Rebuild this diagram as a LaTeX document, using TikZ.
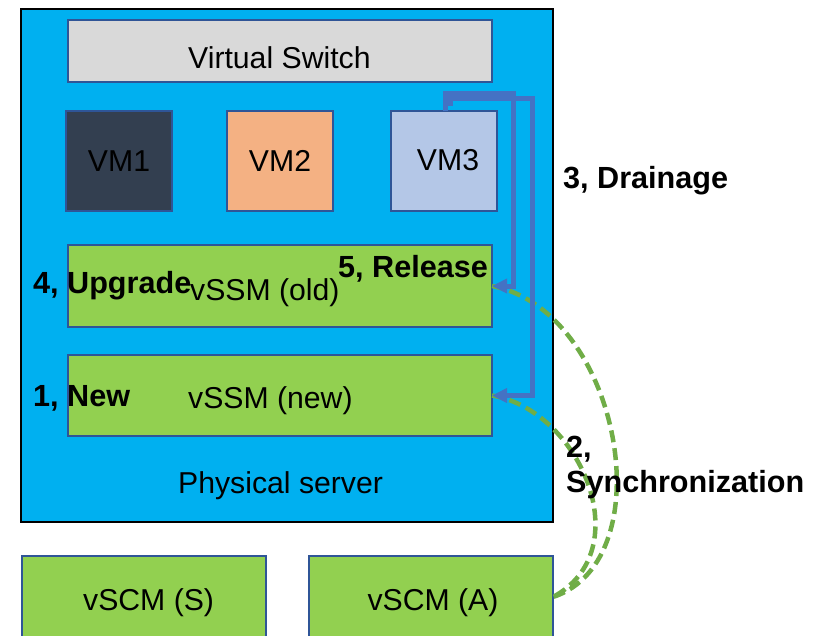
\documentclass[tikz,border=0pt]{standalone}
\usepackage{fontspec}
\setmainfont{Liberation Sans}
\usetikzlibrary{arrows.meta}
\definecolor{srvcyan}{HTML}{00B0F0}
\definecolor{bordblue}{HTML}{2F5597}
\definecolor{swgray}{HTML}{D9D9D9}
\definecolor{vmdark}{HTML}{333F50}
\definecolor{vmorange}{HTML}{F4B183}
\definecolor{vmlight}{HTML}{B4C7E7}
\definecolor{boxgreen}{HTML}{92D050}
\definecolor{lineblue}{HTML}{4472C4}
\definecolor{linegreen}{HTML}{70AD47}
\begin{document}
\begin{tikzpicture}[x=1pt,y=-1pt,
  box/.style={draw=bordblue, line width=2pt, anchor=north west, inner sep=0pt, outer sep=0pt},
  txt/.style={font=\fontsize{30.2}{36}\selectfont, inner sep=0pt, anchor=base west},
  btxt/.style={font=\fontsize{30.6}{36}\selectfont\bfseries, inner sep=0pt, anchor=base west},
  bluearrow/.style={draw=lineblue, line width=5pt, -{Triangle[length=15pt,width=14pt]}},
  greendash/.style={draw=linegreen, line width=4.5pt, dash pattern=on 12pt off 6pt}
]
\useasboundingbox (0,0) rectangle (825,635);
% physical server
\node[draw=black, line width=2.5pt, fill=srvcyan, anchor=north west, minimum width=532pt, minimum height=513pt, inner sep=0pt, outer sep=0pt] (srv) at (21,9) {};
% boxes
\node[box, fill=swgray, minimum width=424pt, minimum height=62pt] (vsw) at (68,20) {};
\node[box, fill=vmdark, minimum width=106pt, minimum height=100pt] (vm1) at (66,111) {};
\node[box, fill=vmorange, minimum width=106pt, minimum height=100pt] (vm2) at (227,111) {};
\node[box, fill=vmlight, minimum width=106pt, minimum height=100pt] (vm3) at (391,111) {};
\node[box, fill=boxgreen, minimum width=424pt, minimum height=82pt] (old) at (68,245) {};
\node[box, fill=boxgreen, minimum width=424pt, minimum height=81pt] (new) at (68,355) {};
\node[box, fill=boxgreen, minimum width=244pt, minimum height=82pt] (scmS) at (22,556) {};
\node[box, fill=boxgreen, minimum width=244pt, minimum height=82pt] (scmA) at (309,556) {};
% texts
\node[txt] (tvsw) at (188,68) {Virtual Switch};
\node[txt, anchor=base] (tvm1) at (119,171) {VM1};
\node[txt, anchor=base] (tvm2) at (280,171) {VM2};
\node[txt, anchor=base] (tvm3) at (448,170) {VM3};
\node[txt] (told) at (190,300) {vSSM (old)};
\node[txt] (tnew) at (188,408) {vSSM (new)};
\node[txt] (tsrv) at (178,493) {Physical server};
\node[txt] (tscmS) at (83,610) {vSCM (S)};
\node[txt, anchor=base] (tscmA) at (433,610) {vSCM (A)};
% green synchronization curves
\draw[greendash] (old.east) .. controls (620,310) and (665,560) .. (scmA.east);
\draw[greendash] (new.east) .. controls (580,410) and (640,550) .. (scmA.east);
% blue drainage lines
\coordinate (s1) at ([xshift=54pt]vm3.north west);
\coordinate (s2) at (450,106);
\draw[bluearrow] (s1) -- (445,93) -- (513,93) -- (513,286) -- (old.east);
\draw[bluearrow] (s2) -- (450,98) -- (532,98) -- (532,395.5) -- (new.east);
% bold labels
\node[btxt] (l3) at (563,188) {3, Drainage};
\node[btxt] (l4) at (33,293) {4, Upgrade};
\node[btxt] (l5) at (338,277) {5, Release};
\node[btxt] (l1) at (33,406) {1, New};
\node[btxt] (l2a) at (566,457) {2,};
\node[btxt] (l2b) at (566,492) {Synchronization};
\end{tikzpicture}
\end{document}
